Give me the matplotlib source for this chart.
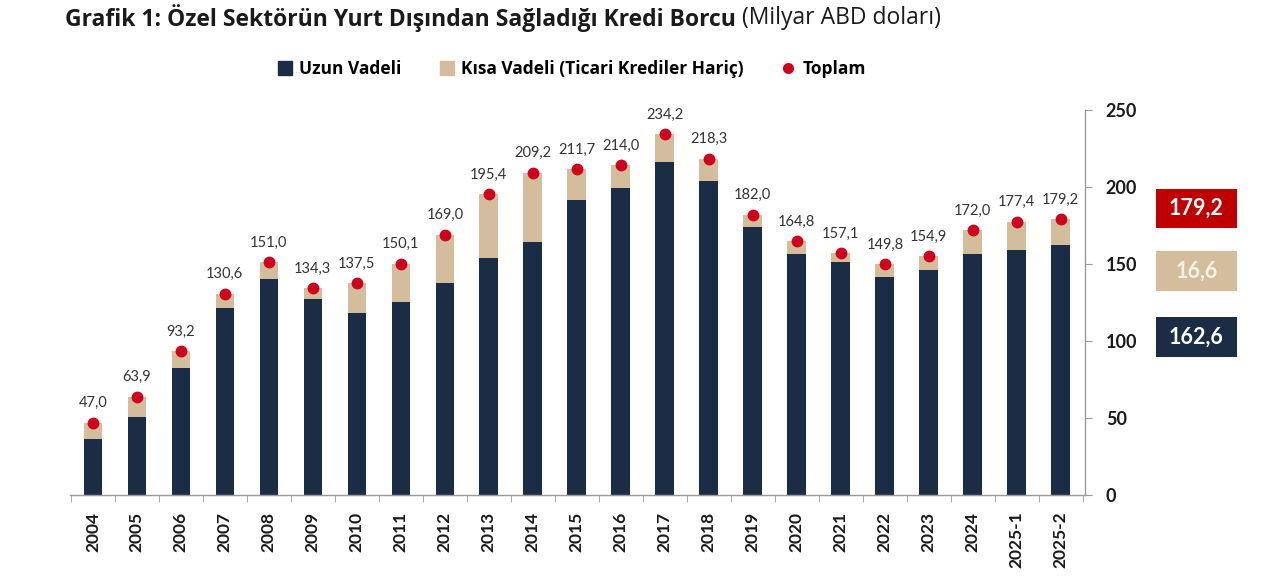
import matplotlib
matplotlib.use("Agg")
import matplotlib.pyplot as plt
from matplotlib.lines import Line2D
from matplotlib.patches import Patch
import numpy as np

categories = ["2004", "2005", "2006", "2007", "2008", "2009", "2010", "2011", "2012",
              "2013", "2014", "2015", "2016", "2017", "2018", "2019", "2020", "2021",
              "2022", "2023", "2024", "2025-1", "2025-2"]
total = [47.0, 63.9, 93.2, 130.6, 151.0, 134.3, 137.5, 150.1, 169.0, 195.4, 209.2,
         211.7, 214.0, 234.2, 218.3, 182.0, 164.8, 157.1, 149.8, 154.9, 172.0, 177.4, 179.2]
long_term = [36.4, 50.4, 82.7, 121.6, 140.3, 127.5, 118.4, 125.3, 137.9, 153.9, 164.5,
             191.6, 199.6, 216.0, 203.9, 174.0, 156.3, 151.1, 141.6, 145.9, 156.3, 158.9, 162.6]
short_term = [round(t - l, 1) for t, l in zip(total, long_term)]
yticks = [0, 50, 100, 150, 200, 250]

NAVY = "#1b2d45"
TAN = "#d3bd9c"
RED = "#d0021b"
BOXRED = "#c00000"
FONT = "Open Sans"
NUMFONT = "Lato"

def fmt(v):
    return f"{v:.1f}".replace(".", ",")

fig = plt.figure(figsize=(12.8, 5.85), dpi=100)
ax = fig.add_axes([70/1280, 1-495/585, (1085-70)/1280, (495-110)/585])

x = np.arange(len(categories))
w = 0.425
ax.bar(x, long_term, width=w, color=NAVY, zorder=2)
ax.bar(x, short_term, width=w, bottom=long_term, color=TAN, zorder=2)
ax.plot(x, total, linestyle="none", marker="o", markersize=7.5, color=RED, zorder=3, clip_on=False)
for xi, t in zip(x, total):
    ax.annotate(fmt(t), (xi, t), xytext=(0, 9), textcoords="offset points",
                ha="center", va="bottom", fontsize=10.5, color="#333333",
                family=NUMFONT, annotation_clip=False)

ax.set_xlim(-0.52, len(categories) - 0.45)
ax.set_ylim(0, 250)
ax.yaxis.tick_right()
ax.set_yticks(yticks)
ax.set_yticklabels([str(v) for v in yticks], fontsize=13, fontweight="bold",
                   family=NUMFONT, color="#1a1a1a")
ax.tick_params(axis="y", direction="out", length=5, color="#9a9a9a", pad=10)
ax.set_xticks(x)
ax.set_xticklabels(categories, rotation=90, fontsize=12.5, fontweight="bold",
                   family=NUMFONT, color="#1a1a1a")
ax.set_xticks(np.arange(-0.5, len(categories), 1), minor=True)
ax.tick_params(axis="x", which="major", length=0, pad=12)
ax.tick_params(axis="x", which="minor", length=5, color="#9a9a9a", direction="out")
for s in ["top", "left"]:
    ax.spines[s].set_visible(False)
for s in ["right", "bottom"]:
    ax.spines[s].set_color("#9a9a9a")
    ax.spines[s].set_linewidth(1.0)

# Title (bold part + normal part)
t1 = fig.text(65/1280, 1-18/585, "Grafik 1: Özel Sektörün Yurt Dışından Sağladığı Kredi Borcu",
              fontsize=16.5, fontweight="bold", family=FONT, color="#1a1a1a", va="center", ha="left")
fig.canvas.draw()
bb = t1.get_window_extent(fig.canvas.get_renderer())
fig.text((bb.x1 + 6)/1280, 1-18/585, "(Milyar ABD doları)", fontsize=16.5, family=FONT,
         color="#1a1a1a", va="center", ha="left")

# Legend
handles = [Patch(facecolor=NAVY, edgecolor=NAVY),
           Patch(facecolor=TAN, edgecolor=TAN),
           Line2D([], [], linestyle="none", marker="o", markersize=7, color=RED)]
labels = ["Uzun Vadeli", "Kısa Vadeli (Ticari Krediler Hariç)", "Toplam"]
leg = fig.legend(handles, labels, loc="center", bbox_to_anchor=(572/1280, 1-69/585), ncol=3,
                 frameon=False, prop={"family": FONT, "weight": "bold", "size": 12.5},
                 handlelength=0.8, handleheight=0.8, handletextpad=0.4, columnspacing=2.2)

# Value boxes on right
boxes = [(total[-1], BOXRED, "white", 189, 228),
         (short_term[-1], TAN, "#f7f1e8", 251, 291),
         (long_term[-1], NAVY, "white", 317, 357)]
for val, fc, tc, y0, y1 in boxes:
    bx0, bx1 = 1156, 1237
    fig.patches.append(plt.Rectangle((bx0/1280, 1-y1/585), (bx1-bx0)/1280, (y1-y0)/585,
                                     transform=fig.transFigure, facecolor=fc, edgecolor="none"))
    fig.text((bx0+bx1)/2/1280, 1-(y0+y1)/2/585, fmt(val), ha="center", va="center",
             fontsize=15.5, fontweight="bold", family=NUMFONT, color=tc)

fig.savefig("out.png", dpi=100, facecolor="white")
